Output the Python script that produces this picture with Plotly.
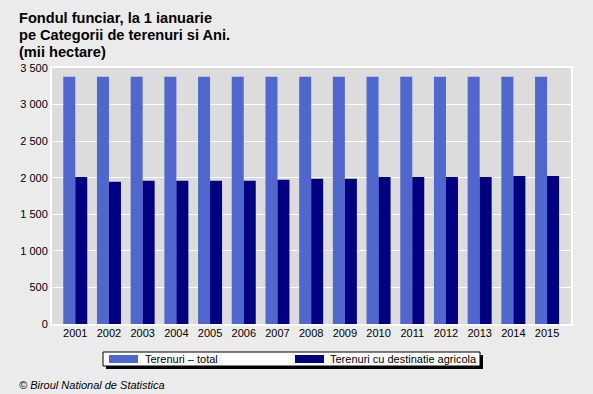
import plotly.graph_objects as go

years = [str(y) for y in range(2001, 2016)]
total = [3380] * 15
agricol = [2010, 1945, 1959, 1959, 1959, 1959, 1973, 1986, 1986, 2010, 2010, 2010, 2010, 2024, 2024]
series_names = ["Terenuri \u2013 total", "Terenuri cu destinatie agricola"]
colors = ["#5068CD", "#000080"]
yticks = [0, 500, 1000, 1500, 2000, 2500, 3000, 3500]
yticktext = ["0", "500", "1 000", "1 500", "2 000", "2 500", "3 000", "3 500"]
title_lines = ["Fondul funciar, la 1 ianuarie", "pe Categorii de terenuri si Ani.", "(mii hectare)"]

font = "Liberation Sans, Arial, sans-serif"

fig = go.Figure()
fig.add_trace(go.Bar(x=years, y=total, name=series_names[0], marker_color=colors[0], marker_line_width=0))
fig.add_trace(go.Bar(x=years, y=agricol, name=series_names[1], marker_color=colors[1], marker_line_width=0))

fig.update_layout(
    width=593, height=394,
    margin=dict(l=52, r=22, t=68, b=70),
    paper_bgcolor="#EBEBEB",
    plot_bgcolor="#DCDCDC",
    barmode="group",
    bargap=0.288,
    bargroupgap=0,
    showlegend=False,
    font=dict(family=font, size=11, color="#000000"),
    xaxis=dict(showgrid=False, showline=True, linecolor="white", linewidth=2, mirror=True,
               range=[-0.69, len(years) - 1 + 0.71],
               ticks="", tickfont=dict(size=11), ticklabelstandoff=-2),
    yaxis=dict(range=[0, 3500], tickvals=yticks, ticktext=yticktext, showgrid=True,
               gridcolor="white", gridwidth=1, showline=True, linecolor="white", linewidth=2,
               mirror=True, zeroline=False, ticks="", tickfont=dict(size=11)),
)

def px(x):
    return (x - 52) / 519

def py(y):
    return (324 - y) / 256

# title, one annotation per line for tight spacing
for i, line in enumerate(title_lines):
    fig.add_annotation(xref="paper", yref="paper", x=px(17), y=py(18 + 16.8 * i), xanchor="left", yanchor="middle",
                       text="<b>" + line + "</b>", showarrow=False, font=dict(size=14.6, family=font))

# footer
fig.add_annotation(xref="paper", yref="paper", x=px(17), y=py(385), xanchor="left", yanchor="middle",
                   text="<i>\u00a9 Biroul National de Statistica</i>", showarrow=False,
                   font=dict(size=11, family=font))

# manual legend (box with shadow)
fig.add_shape(type="rect", xref="paper", yref="paper", x0=px(106), x1=px(483), y0=py(369), y1=py(355),
              fillcolor="black", line_width=0, layer="above")
fig.add_shape(type="rect", xref="paper", yref="paper", x0=px(103), x1=px(480), y0=py(366), y1=py(352),
              fillcolor="white", line=dict(color="black", width=1), layer="above")
for i, (lx, tx) in enumerate([(109, 143), (295, 328)]):
    fig.add_shape(type="rect", xref="paper", yref="paper", x0=px(lx), x1=px(lx + 29), y0=py(363), y1=py(355),
                  fillcolor=colors[i], line_width=0, layer="above")
    fig.add_annotation(xref="paper", yref="paper", x=px(tx), y=py(359), xanchor="left", yanchor="middle",
                       text=series_names[i], showarrow=False, font=dict(size=11, family=font))

fig.write_html("out.html", config={"displayModeBar": False},
               post_script="document.body.style.margin='0px';document.body.style.overflow='hidden';")
